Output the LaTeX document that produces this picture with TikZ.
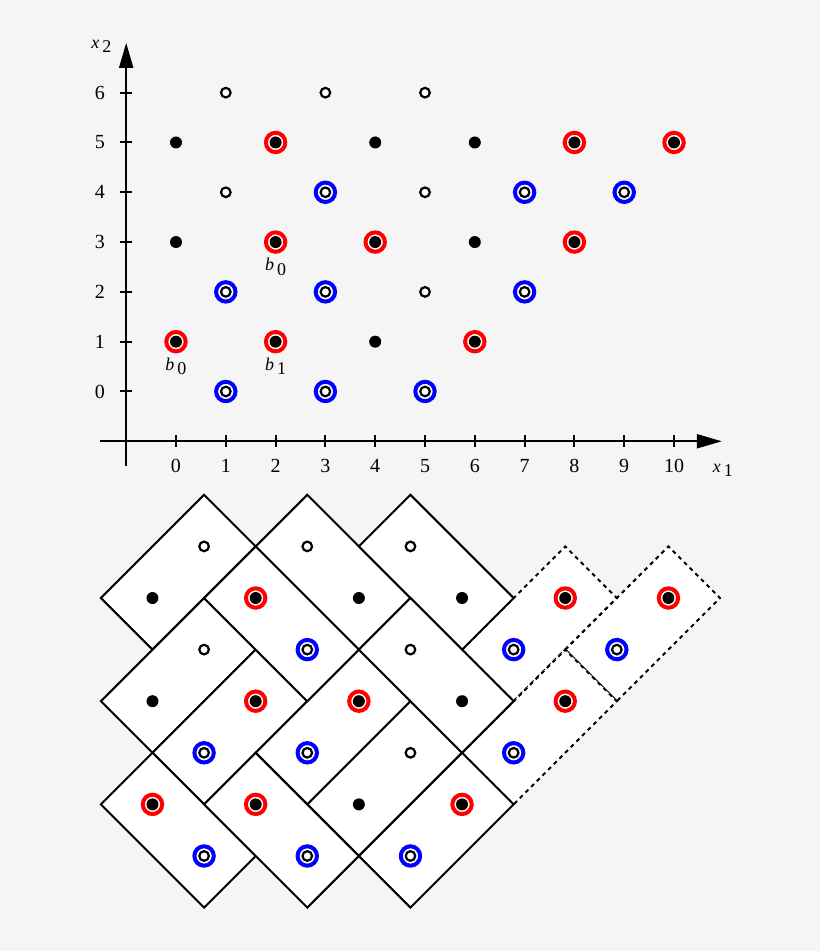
\documentclass[tikz,border=0pt]{standalone}
\usepackage{fontspec}
\setmainfont{Liberation Serif}
\usetikzlibrary{positioning,arrows.meta}
\definecolor{bg}{HTML}{F5F5F5}
% lattice points, x/y
\newcommand\blackpts{0/5,4/5,6/5,0/3,6/3,4/1}
\newcommand\openpts{1/6,3/6,5/6,1/4,5/4,5/2}
\newcommand\redpts{2/5,8/5,10/5,2/3,4/3,8/3,0/1,2/1,6/1}
\newcommand\bluepts{3/4,7/4,9/4,1/2,3/2,7/2,1/0,3/0,5/0}
% subscripted labels
\newcommand\sublab[2]{{\small\itshape #1\,\upshape\raisebox{-2.2pt}{#2}}}

\begin{document}
\begin{tikzpicture}[
		x=24.9pt,y=24.9pt,
		dot/.style={circle,fill=black,minimum size=6pt,inner sep=0},
		hole/.style={circle,draw=black,fill=white,line width=1.1pt,minimum size=4.8pt,inner sep=0},
		redring/.style={circle,draw=red,fill=white,line width=2pt,minimum size=9.7pt,inner sep=0,
			path picture={\fill[black] (path picture bounding box.center) circle (3pt);}
		},
		bluering/.style={circle,draw=blue,fill=white,line width=2pt,minimum size=9.7pt,inner sep=0,
			path picture={\draw[black,line width=1.1pt] (path picture bounding box.center) circle (2.4pt);}
		},
		tile/.style={draw,fill=white,line width=1pt},
		ghost/.style={tile,dash pattern=on 2pt off 2pt},
		axis/.style={line width=1pt,-{Triangle[length=12.5pt,width=7pt]}},
		]
		\path[use as bounding box,fill=bg] (-3.534,-11.235) rectangle (12.932,7.861);
		% Axes
		\coordinate (xs) at (-1.53,-1);
		\coordinate (xe) at (10.96,-1);
		\coordinate (ys) at (-1,-1.5);
		\coordinate (ye) at (-1,7);
		\draw[axis] (xs) -- (xe);
		\draw[axis] (ys) -- (ye);
		\node (xlab) at (10.98,-1.58) {\sublab{x}{1}};
		\node (ylab) at (-1.5,6.93) {\sublab{x}{2}};
		% Ticks
		\foreach \x in {0,...,10}
		{\draw[line width=1pt] (\x,-0.88) -- (\x,-1.12);
			\node (xt\x) at (\x,-1.5) {\x};
		}
		\foreach \y in {0,...,6}
		{\draw[line width=1pt] (-1.12,\y) -- (-0.88,\y);
			\node (yt\y) at (-1.53,\y) {\y};
		}
		% Points
		\foreach \x/\y in \blackpts
			\node[dot] (p\x-\y) at (\x,\y) {};
		\foreach \x/\y in \openpts
			\node[hole] (p\x-\y) at (\x,\y) {};
		\foreach \x/\y in \redpts
			\node[redring] (p\x-\y) at (\x,\y) {};
		\foreach \x/\y in \bluepts
			\node[bluering] (p\x-\y) at (\x,\y) {};
		% Labels
		\node[below=2pt of p2-3,inner sep=0] (lb0a) {\sublab{b}{0}};
		\node[below=2pt of p0-1,inner sep=0] (lb0b) {\sublab{b}{0}};
		\node[below=2pt of p2-1,inner sep=0] (lb1) {\sublab{b}{1}};
		% Tiling
		\begin{scope}[shift={(-0.472,-9.327)},scale=1.036]
			% dashed tiles
			\foreach \a/\b in {6/4,8/4,6/2}
				\draw[ghost] (\a,\b) -- ++(2,2) -- ++(1,-1) -- ++(-2,-2) -- cycle;
			% NE tiles
			\foreach \a/\b in {-1/5,-1/3,0/2,2/2,3/1,4/0}
				\draw[tile] (\a,\b) -- ++(2,2) -- ++(1,-1) -- ++(-2,-2) -- cycle;
			% SE tiles
			\foreach \a/\b in {2/6,4/6,1/5,4/4,-1/1,1/1}
				\draw[tile] (\a,\b) -- ++(1,1) -- ++(2,-2) -- ++(-1,-1) -- cycle;
			\foreach \x/\y in \blackpts
				\node[dot] (q\x-\y) at (\x,\y) {};
			\foreach \x/\y in \openpts
				\node[hole] (q\x-\y) at (\x,\y) {};
			\foreach \x/\y in \redpts
				\node[redring] (q\x-\y) at (\x,\y) {};
			\foreach \x/\y in \bluepts
				\node[bluering] (q\x-\y) at (\x,\y) {};
		\end{scope}
\end{tikzpicture}
\end{document}
